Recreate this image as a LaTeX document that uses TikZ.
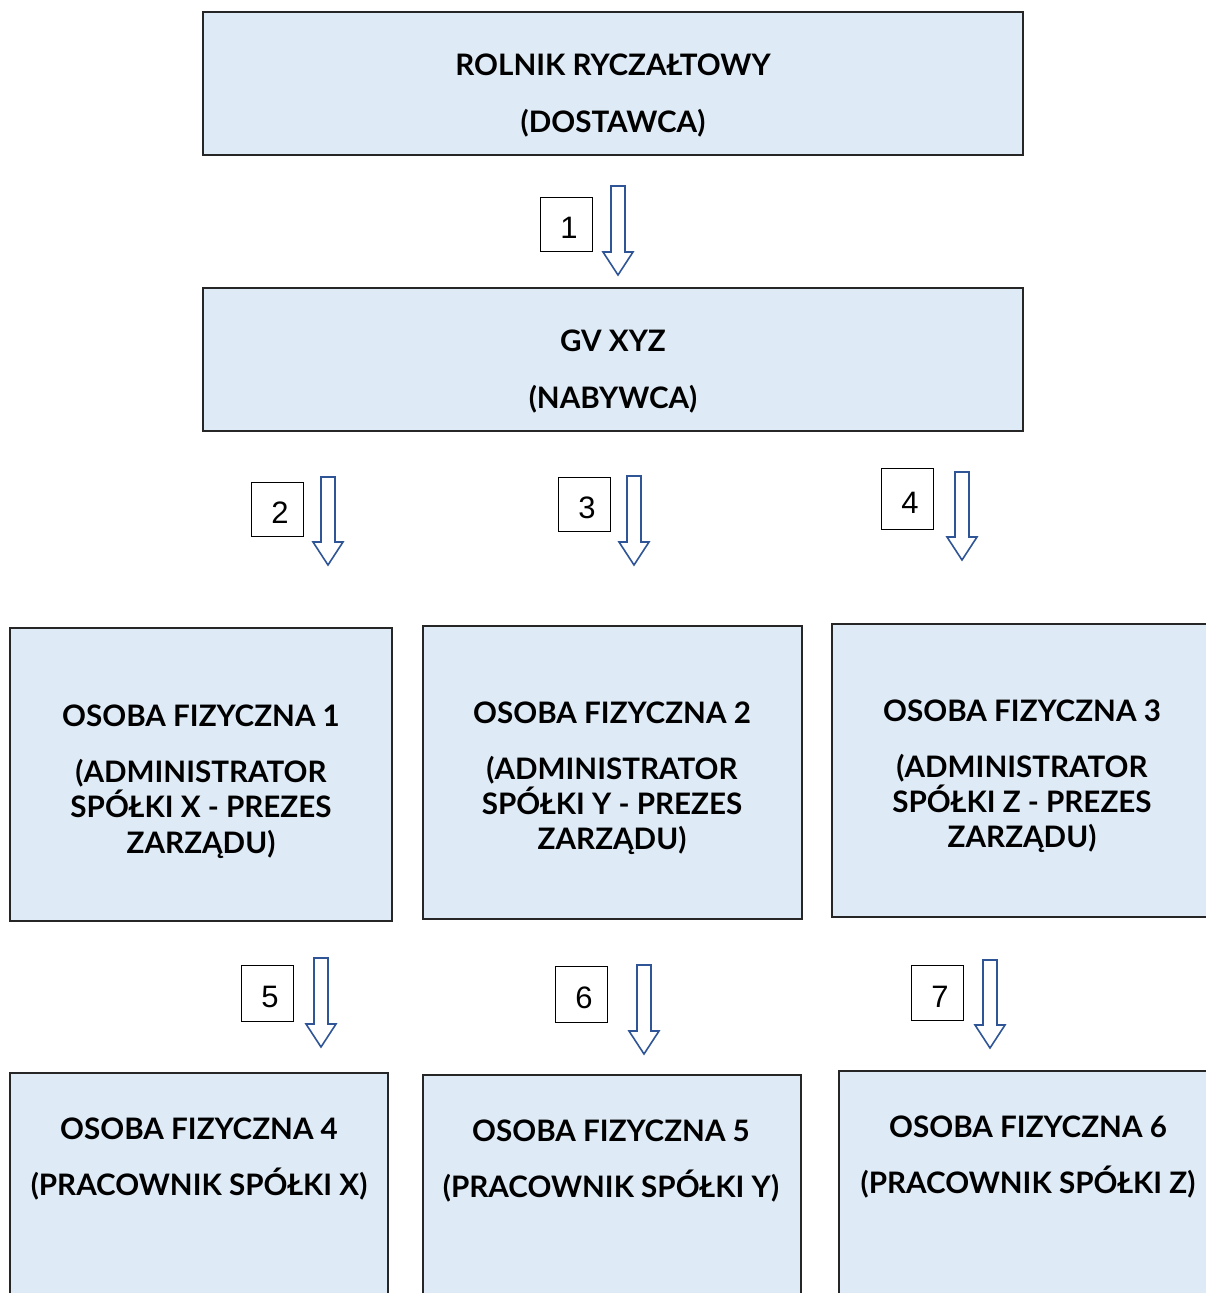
\documentclass[tikz,border=0pt]{standalone}
\usepackage{fontspec}
\setmainfont{Lato}
\newfontfamily\numfont{Liberation Sans}
\definecolor{boxfill}{RGB}{222,234,246}
\definecolor{arrowblue}{RGB}{47,85,151}
\newcommand{\numtxt}[1]{\hspace*{6pt}#1}
\tikzset{
  box/.style={draw=black!85, line width=1.2pt, fill=boxfill},
  lbl/.style={draw=black, line width=1pt, fill=white, minimum width=52pt, minimum height=54pt, inner sep=0pt, text height=28pt, text depth=0pt, font=\numfont\fontsize{31}{34}\selectfont},
  txt/.style={anchor=base, inner sep=0pt, font=\bfseries\fontsize{29.6}{34}\selectfont},
  barrow/.style={draw=arrowblue, line width=1.6pt, fill=white, line join=miter}
}
\newcommand{\blockarr}[3]{% x, ytop, ytip
  \draw[barrow] (#1-7,#2) -- (#1+7,#2) -- (#1+7,#3-23) -- (#1+15,#3-23) -- (#1,#3) -- (#1-15,#3-23) -- (#1-7,#3-23) -- cycle;}
\begin{document}
\begin{tikzpicture}[x=1pt,y=-1pt]
\useasboundingbox (0,0) rectangle (1206,1293);
% boxes
\draw[box] (203,12) rectangle (1023,155);
\draw[box] (203,288) rectangle (1023,431);
\draw[box] (10,628) rectangle (392,921);
\draw[box] (423,626) rectangle (802,919);
\draw[box] (832,624) rectangle (1214,917);
\draw[box] (10,1073) rectangle (388,1310);
\draw[box] (423,1075) rectangle (801,1310);
\draw[box] (839,1071) rectangle (1218,1310);
% texts
\node[txt] (t1a) at (613,75) {ROLNIK RYCZAŁTOWY};
\node[txt] (t1b) at (613,132) {(DOSTAWCA)};
\node[txt] (t2a) at (613,351) {GV XYZ};
\node[txt] (t2b) at (613,408) {(NABYWCA)};
\node[txt] (a1) at (201,726) {OSOBA FIZYCZNA 1};
\node[txt] (a2) at (201,782) {(ADMINISTRATOR};
\node[txt] (a3) at (201,817) {SPÓŁKI X - PREZES};
\node[txt] (a4) at (201,853) {ZARZĄDU)};
\node[txt] (c1) at (612,723) {OSOBA FIZYCZNA 2};
\node[txt] (c2) at (612,779) {(ADMINISTRATOR};
\node[txt] (c3) at (612,814) {SPÓŁKI Y - PREZES};
\node[txt] (c4) at (612,849) {ZARZĄDU)};
\node[txt] (d1) at (1022,721) {OSOBA FIZYCZNA 3};
\node[txt] (d2) at (1022,777) {(ADMINISTRATOR};
\node[txt] (d3) at (1022,812) {SPÓŁKI Z - PREZES};
\node[txt] (d4) at (1022,847) {ZARZĄDU)};
\node[txt] (e1) at (199,1139) {OSOBA FIZYCZNA 4};
\node[txt] (e2) at (199,1195) {(PRACOWNIK SPÓŁKI X)};
\node[txt] (f1) at (611,1141) {OSOBA FIZYCZNA 5};
\node[txt] (f2) at (611,1197) {(PRACOWNIK SPÓŁKI Y)};
\node[txt] (g1) at (1028,1137) {OSOBA FIZYCZNA 6};
\node[txt] (g2) at (1028,1193) {(PRACOWNIK SPÓŁKI Z)};
% number labels
\node[lbl] (n1) at (566,224) {\numtxt{1}};
\node[lbl] (n2) at (277,509) {\numtxt{2}};
\node[lbl] (n3) at (584,504) {\numtxt{3}};
\node[lbl, minimum height=61pt] (n4) at (907,499) {\numtxt{4}};
\node[lbl, minimum height=56pt] (n5) at (267,993) {\numtxt{5}};
\node[lbl, minimum height=56pt] (n6) at (581,994) {\numtxt{6}};
\node[lbl, minimum height=55pt] (n7) at (937,993) {\numtxt{7}};
% arrows
\blockarr{618}{186}{275}
\blockarr{328}{477}{565}
\blockarr{634}{476}{565}
\blockarr{962}{472}{560}
\blockarr{321}{958}{1047}
\blockarr{644}{965}{1054}
\blockarr{990}{960}{1048}
\end{tikzpicture}
\end{document}
